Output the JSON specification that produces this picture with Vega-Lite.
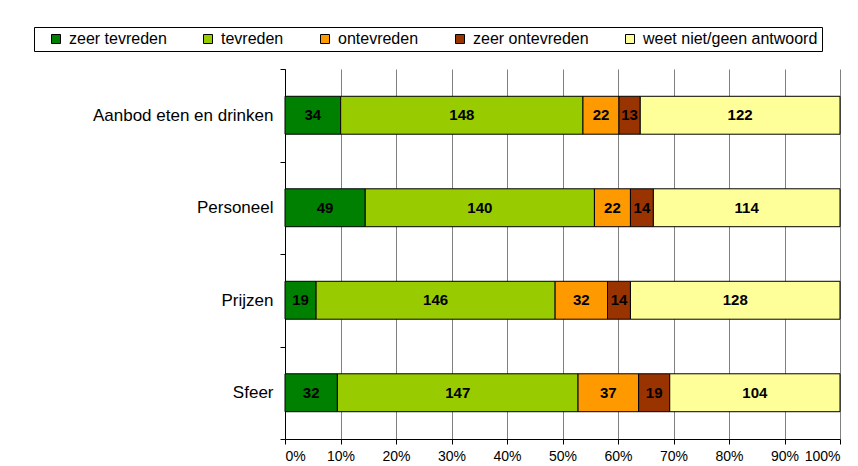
{
  "$schema": "https://vega.github.io/schema/vega-lite/v6.json",
  "width": 555,
  "height": 370,
  "autosize": {"type": "none"},
  "padding": {"left": 285, "top": 69, "right": 18, "bottom": 27},
  "background": "white",
  "config": {"view": {"stroke": null}, "font": "Liberation Sans"},
  "data": {
    "values": [
      {"cat": "Aanbod eten en drinken", "resp": "zeer tevreden", "o": 1, "n": 34},
      {"cat": "Aanbod eten en drinken", "resp": "tevreden", "o": 2, "n": 148},
      {"cat": "Aanbod eten en drinken", "resp": "ontevreden", "o": 3, "n": 22},
      {"cat": "Aanbod eten en drinken", "resp": "zeer ontevreden", "o": 4, "n": 13},
      {"cat": "Aanbod eten en drinken", "resp": "weet niet/geen antwoord", "o": 5, "n": 122},
      {"cat": "Personeel", "resp": "zeer tevreden", "o": 1, "n": 49},
      {"cat": "Personeel", "resp": "tevreden", "o": 2, "n": 140},
      {"cat": "Personeel", "resp": "ontevreden", "o": 3, "n": 22},
      {"cat": "Personeel", "resp": "zeer ontevreden", "o": 4, "n": 14},
      {"cat": "Personeel", "resp": "weet niet/geen antwoord", "o": 5, "n": 114},
      {"cat": "Prijzen", "resp": "zeer tevreden", "o": 1, "n": 19},
      {"cat": "Prijzen", "resp": "tevreden", "o": 2, "n": 146},
      {"cat": "Prijzen", "resp": "ontevreden", "o": 3, "n": 32},
      {"cat": "Prijzen", "resp": "zeer ontevreden", "o": 4, "n": 14},
      {"cat": "Prijzen", "resp": "weet niet/geen antwoord", "o": 5, "n": 128},
      {"cat": "Sfeer", "resp": "zeer tevreden", "o": 1, "n": 32},
      {"cat": "Sfeer", "resp": "tevreden", "o": 2, "n": 147},
      {"cat": "Sfeer", "resp": "ontevreden", "o": 3, "n": 37},
      {"cat": "Sfeer", "resp": "zeer ontevreden", "o": 4, "n": 19},
      {"cat": "Sfeer", "resp": "weet niet/geen antwoord", "o": 5, "n": 104}
    ]
  },
  "encoding": {
    "y": {
      "field": "cat",
      "type": "nominal",
      "sort": ["Aanbod eten en drinken", "Personeel", "Prijzen", "Sfeer"],
      "scale": {"paddingInner": 0, "paddingOuter": 0},
      "axis": {
        "title": null,
        "tickBand": "extent",
        "domainColor": "black",
        "tickColor": "black",
        "tickSize": 5,
        "labelFontSize": 17,
        "labelColor": "black",
        "labelPadding": 7,
        "labelLimit": 300
      }
    },
    "x": {
      "field": "n",
      "type": "quantitative",
      "stack": "normalize",
      "scale": {"domain": [0, 1]},
      "axis": {
        "title": null,
        "format": "%",
        "values": [0, 0.1, 0.2, 0.3, 0.4, 0.5, 0.6, 0.7, 0.8, 0.9, 1],
        "grid": true,
        "gridColor": "#808080",
        "gridOpacity": 1,
        "domainColor": "black",
        "tickColor": "black",
        "tickSize": 5,
        "labelFontSize": 14,
        "labelColor": "black",
        "labelPadding": 5
      }
    },
    "order": {"field": "o", "type": "quantitative"}
  },
  "layer": [
    {
      "mark": {"type": "bar", "stroke": "black", "strokeWidth": 1, "height": {"band": 0.41}},
      "encoding": {
        "color": {
          "field": "resp",
          "type": "nominal",
          "scale": {
            "domain": ["zeer tevreden", "tevreden", "ontevreden", "zeer ontevreden", "weet niet/geen antwoord"],
            "range": ["#008000", "#99CC00", "#FF9900", "#993300", "#FFFF99"]
          },
          "legend": {
            "title": " ",
            "titleOrient": "left",
            "titlePadding": 10,
            "titleFontSize": 16,
            "orient": "none",
            "legendX": -251,
            "legendY": -42,
            "direction": "horizontal",
            "strokeColor": "black",
            "padding": 4,
            "symbolType": "square",
            "symbolSize": 81,
            "symbolStrokeColor": "black",
            "symbolStrokeWidth": 1,
            "symbolOpacity": 1,
            "labelFontSize": 16,
            "labelColor": "black",
            "labelOffset": 5,
            "columnPadding": 33,
            "labelLimit": 300
          }
        }
      }
    },
    {
      "mark": {"type": "text", "fontWeight": "bold", "fontSize": 15, "color": "black"},
      "encoding": {
        "x": {"field": "n", "type": "quantitative", "stack": "normalize", "bandPosition": 0.5},
        "text": {"field": "n", "type": "quantitative"}
      }
    }
  ]
}
